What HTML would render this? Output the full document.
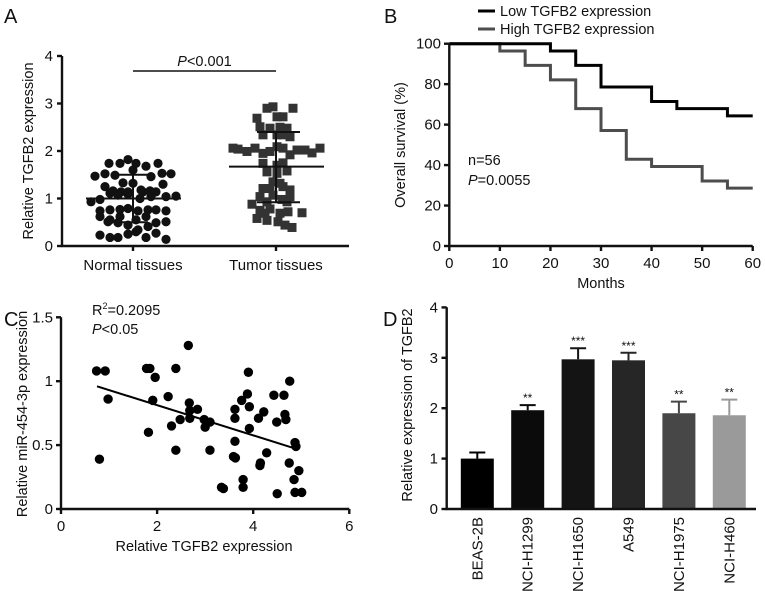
<!DOCTYPE html>
<html><head><meta charset="utf-8">
<style>
html,body{margin:0;padding:0;background:#fff;}
svg{display:block;font-family:"Liberation Sans",Arial,sans-serif;}
text{fill:#111;}
</style></head>
<body>
<svg id="fig" width="765" height="591" viewBox="0 0 765 591" xmlns="http://www.w3.org/2000/svg">
<g id="A"></g>
<g id="B"></g>
<g id="C"></g>
<g id="D"></g>
</svg>
<script>
// ---- Panel A data ----
const aCategories = ["Normal tissues","Tumor tissues"];
const aTicks = [0,1,2,3,4];
const normalVals = [1.74,1.74,1.82,1.74,1.68,1.74,1.47,1.52,1.49,1.60,1.46,1.53,1.52,1.25,1.33,1.32,1.14,1.30,1.16,1.14,1.14,1.18,1.16,1.14,0.93,0.98,1.11,1.07,1.09,1.00,1.04,1.04,1.05,0.74,0.76,0.77,0.79,0.74,0.76,0.76,0.74,0.62,0.55,0.62,0.55,0.62,0.51,0.51,0.49,0.44,0.34,0.41,0.49,0.23,0.18,0.18,0.25,0.30,0.18,0.27,0.14];
const normalJitter = [-24,-13,-5,3,13,25,-38,-28,-18,0,18,29,38,-28,-10,0,10,30,-20,-12,-5,8,17,23,-42,-33,-23,-15,-5,7,18,33,43,-33,-23,-13,-5,5,15,23,33,-33,-23,-13,3,13,33,-25,-15,-5,5,15,23,-33,-23,-15,-5,3,13,23,33];
const tumorVals = [2.90,2.93,2.90,2.69,2.72,2.72,2.51,2.48,2.50,2.48,2.34,2.34,2.34,2.30,2.06,2.04,1.99,2.06,1.95,1.99,2.09,2.06,1.92,2.02,2.02,1.96,2.06,1.74,1.70,1.75,1.56,1.53,1.58,1.35,1.32,1.21,1.21,1.25,1.18,1.04,1.07,0.98,1.04,0.88,0.93,0.93,0.75,0.78,0.69,0.72,0.70,0.58,0.54,0.51,0.44,0.39,0.69];
const tumorJitter = [-9,-3,17,-19,1,7,-16,-6,4,11,-13,1,7,14,-43,-38,-29,-21,-13,-6,1,7,14,21,29,36,44,-13,1,7,-9,1,11,-3,4,-13,-6,7,14,-16,-3,6,14,-24,-9,11,-16,-6,4,12,26,-19,-9,2,9,16,-11];
const normalStats = {mean:1.0, sd:0.5};
const tumorStats = {mean:1.67, sdHi:2.4, sdLo:0.92};

// ---- Panel B data ----
const bTicksX = [0,10,20,30,40,50,60];
const bTicksY = [0,20,40,60,80,100];
const lowTimes = [0,20,25,30,40,45,55,60];
const lowSurv  = [100,96.4,89.3,78.6,71.4,67.9,64.3,64.3];
const highTimes = [0,10,15,20,25,30,35,40,50,55,60];
const highSurv  = [100,96.4,89.3,82.1,67.9,57.1,42.9,39.3,32.1,28.6,28.6];

// ---- Panel C data ----
const cTicksX = [0,2,4,6];
const cTicksY = [0,0.5,1,1.5];
const cX = [0.74,0.92,0.98,0.80,1.78,1.85,1.96,1.91,1.82,2.23,2.30,2.39,2.39,2.48,2.65,2.67,2.68,2.68,2.84,2.98,3.00,3.10,3.10,3.34,3.38,3.62,3.62,3.62,3.59,3.63,3.76,3.79,3.79,3.90,3.88,3.92,3.92,4.11,4.22,4.14,4.15,4.28,4.43,4.49,4.50,4.64,4.66,4.68,4.76,4.75,4.85,4.87,4.89,4.87,4.95,5.01];
const cY = [1.08,1.08,0.86,0.39,1.10,1.10,1.03,0.85,0.60,0.88,0.65,1.10,0.46,0.70,1.28,0.83,0.77,0.71,0.78,0.70,0.64,0.68,0.46,0.17,0.16,0.78,0.71,0.53,0.41,0.40,0.85,0.23,0.17,1.07,0.90,0.80,0.63,0.71,0.76,0.34,0.36,0.44,0.89,0.68,0.12,0.89,0.74,0.70,1.00,0.36,0.23,0.52,0.49,0.13,0.30,0.13];
const cFit = {x0:0.75, y0:0.96, x1:4.9, y1:0.47};

// ---- Panel D data ----
const dCategories = ["BEAS-2B","NCI-H1299","NCI-H1650","A549","NCI-H1975","NCI-H460"];
const dValues = [1.0,1.96,2.97,2.95,1.9,1.86];
const dErrors = [0.12,0.10,0.22,0.15,0.23,0.31];
const dStars = ["","**","***","***","**","**"];
const dTicks = [0,1,2,3,4];
const dColors = ["#000","#0b0b0b","#141414","#262626","#474747","#9a9a9a"];

const NS="http://www.w3.org/2000/svg";
const TF=15, LF=14.5, PF=20, AW=2.4;
function mk(parent,tag,attrs,txt){const e=document.createElementNS(NS,tag);for(const k in attrs)e.setAttribute(k,attrs[k]);if(txt!==undefined)e.textContent=txt;parent.appendChild(e);return e;}

// ===== Panel A =====
(function(){
const g=document.getElementById('A');
const yA=v=>246-v*47.5; const xA=i=>133+i*143;
let t=mk(g,'text',{x:4,y:23,'font-size':PF});
t.textContent='A';
let ax=mk(g,'path',{d:'M62,56 V246 H349',stroke:'#111','stroke-width':AW,fill:'none'});

aTicks.forEach(v=>{
 let l=mk(g,'line',{x1:57,x2:62,y1:yA(v),y2:yA(v),stroke:'#111','stroke-width':AW});
 
 let tt=mk(g,'text',{x:53,y:yA(v)+5,'font-size':TF,'text-anchor':'end'},v);
 
});
aCategories.forEach((c,i)=>{
 let l=mk(g,'line',{x1:xA(i),x2:xA(i),y1:246,y2:251,stroke:'#111','stroke-width':AW});
 
 let tt=mk(g,'text',{x:xA(i),y:270,'font-size':TF,'text-anchor':'middle'},c);
 
});
let yt=mk(g,'text',{x:0,y:0,'font-size':LF,'text-anchor':'middle',transform:'translate(33,151) rotate(-90)'},'Relative TGFB2 expression');

let sl=mk(g,'line',{x1:xA(0),x2:xA(1),y1:71,y2:71,stroke:'#111','stroke-width':1.5});

let pt=mk(g,'text',{x:xA(0.5),y:66,'font-size':LF,'text-anchor':'middle'});

pt.innerHTML='<tspan font-style="italic">P</tspan>&lt;0.001';
normalVals.forEach((v,i)=>{
 let c=mk(g,'circle',{cx:xA(0)+normalJitter[i],cy:yA(v),r:4.6,fill:'#111'});
 
});
tumorVals.forEach((v,i)=>{
 let r=mk(g,'rect',{x:xA(1)+tumorJitter[i]-4.5,y:yA(v)-4.5,width:9,height:9,fill:'#333'});
 
});
function hl(x1,x2,v,name){let l=mk(g,'line',{x1:x1,x2:x2,y1:yA(v),y2:yA(v),stroke:'#111','stroke-width':2});}
function vl(x,v1,v2,name){let l=mk(g,'line',{x1:x,x2:x,y1:yA(v1),y2:yA(v2),stroke:'#111','stroke-width':2});}
hl(xA(0)-47,xA(0)+48,normalStats.mean,'normal-mean-line');
hl(xA(0)-14,xA(0)+15,normalStats.mean+normalStats.sd,'normal-sd-upper');
hl(xA(0)-14,xA(0)+15,normalStats.mean-normalStats.sd,'normal-sd-lower');
vl(xA(0),normalStats.mean-normalStats.sd,normalStats.mean+normalStats.sd,'normal-sd-bar');
hl(xA(1)-47,xA(1)+48,tumorStats.mean,'tumor-mean-line');
hl(xA(1)-19,xA(1)+24,tumorStats.sdHi,'tumor-sd-upper');
hl(xA(1)-19,xA(1)+24,tumorStats.sdLo,'tumor-sd-lower');
vl(xA(1),tumorStats.sdLo,tumorStats.sdHi,'tumor-sd-bar');
})();

// ===== Panel B =====
(function(){
const g=document.getElementById('B');
const xB=m=>449.3+m*5.057; const yB=p=>246-p*2.023;
let t=mk(g,'text',{x:384,y:23,'font-size':PF},'B');

let ax=mk(g,'path',{d:'M449.3,43.7 V246 H752.7',stroke:'#111','stroke-width':AW,fill:'none'});

bTicksY.forEach(v=>{
 let l=mk(g,'line',{x1:444,x2:449.3,y1:yB(v),y2:yB(v),stroke:'#111','stroke-width':AW});
 
 let tt=mk(g,'text',{x:441,y:yB(v)+5,'font-size':TF,'text-anchor':'end'},v);
 
});
bTicksX.forEach(v=>{
 let l=mk(g,'line',{x1:xB(v),x2:xB(v),y1:246,y2:251,stroke:'#111','stroke-width':AW});
 
 let tt=mk(g,'text',{x:xB(v),y:268,'font-size':TF,'text-anchor':'middle'},v);
 
});
let xt=mk(g,'text',{x:xB(30),y:288,'font-size':LF,'text-anchor':'middle'},'Months');

let yt=mk(g,'text',{x:0,y:0,'font-size':LF,'text-anchor':'middle',transform:'translate(405,145) rotate(-90)'},'Overall survival (%)');

function step(times,surv){let d='M'+xB(times[0])+','+yB(surv[0]);for(let i=1;i<times.length;i++){d+=' H'+xB(times[i])+' V'+yB(surv[i]);}return d;}
let hp=mk(g,'path',{d:step(highTimes,highSurv),stroke:'#4d4d4d','stroke-width':3,fill:'none'});

let lp=mk(g,'path',{d:step(lowTimes,lowSurv),stroke:'#000','stroke-width':3,fill:'none'});

let l1=mk(g,'line',{x1:478,x2:495,y1:11,y2:11,stroke:'#000','stroke-width':3});

let lt1=mk(g,'text',{x:500,y:16,'font-size':LF},'Low TGFB2 expression');

let l2=mk(g,'line',{x1:478,x2:495,y1:29,y2:29,stroke:'#4d4d4d','stroke-width':3});

let lt2=mk(g,'text',{x:500,y:34,'font-size':LF},'High TGFB2 expression');

let n=mk(g,'text',{x:468,y:165,'font-size':LF},'n=56');

let p=mk(g,'text',{x:468,y:185,'font-size':LF});

p.innerHTML='<tspan font-style="italic">P</tspan>=0.0055';
})();

// ===== Panel C =====
(function(){
const g=document.getElementById('C');
const xC=v=>61+v*48.05; const yC=v=>509-v*127.8;
let t=mk(g,'text',{x:4,y:326,'font-size':PF},'C');

let ax=mk(g,'path',{d:'M61,317.3 V509 H349.3',stroke:'#111','stroke-width':AW,fill:'none'});

cTicksY.forEach(v=>{
 let l=mk(g,'line',{x1:56,x2:61,y1:yC(v),y2:yC(v),stroke:'#111','stroke-width':AW});
 
 let tt=mk(g,'text',{x:53,y:yC(v)+5,'font-size':TF,'text-anchor':'end'},v);
 
});
cTicksX.forEach(v=>{
 let l=mk(g,'line',{x1:xC(v),x2:xC(v),y1:509,y2:514,stroke:'#111','stroke-width':AW});
 
 let tt=mk(g,'text',{x:xC(v),y:531,'font-size':TF,'text-anchor':'middle'},v);
 
});
let xt=mk(g,'text',{x:204,y:551,'font-size':LF,'text-anchor':'middle'},'Relative TGFB2 expression');

let yt=mk(g,'text',{x:0,y:0,'font-size':LF,'text-anchor':'middle',transform:'translate(27,414) rotate(-90)'},'Relative miR-454-3p expression');

cX.forEach((x,i)=>{
 let c=mk(g,'circle',{cx:xC(x),cy:yC(cY[i]),r:4.7,fill:'#000'});
 
});
let fl=mk(g,'line',{x1:xC(cFit.x0),y1:yC(cFit.y0),x2:xC(cFit.x1),y2:yC(cFit.y1),stroke:'#000','stroke-width':2});

let r=mk(g,'text',{x:92,y:315,'font-size':LF});

r.innerHTML='R<tspan font-size="9" dy="-6">2</tspan><tspan dy="6">=0.2095</tspan>';
let p=mk(g,'text',{x:92,y:334,'font-size':LF});

p.innerHTML='<tspan font-style="italic">P</tspan>&lt;0.05';
})();

// ===== Panel D =====
(function(){
const g=document.getElementById('D');
const yD=v=>509-v*50.4; const xD=i=>477.3+i*50.4;
let t=mk(g,'text',{x:383,y:326,'font-size':PF},'D');

dCategories.forEach((c,i)=>{
 const x=xD(i);
 let e=mk(g,'path',{d:`M${x},${yD(dValues[i])} V${yD(dValues[i]+dErrors[i])} M${x-8},${yD(dValues[i]+dErrors[i])} H${x+8}`,stroke:dColors[i],'stroke-width':2,fill:'none'});
 
 let b=mk(g,'rect',{x:x-16.5,y:yD(dValues[i]),width:33,height:yD(0)-yD(dValues[i]),fill:dColors[i]});
 
 if(dStars[i]){let s=mk(g,'text',{x:x,y:yD(dValues[i]+dErrors[i])-3,'font-size':12,'text-anchor':'middle'},dStars[i]);
 }
 let tt=mk(g,'text',{x:0,y:0,'font-size':TF,'text-anchor':'end',transform:`translate(${x+5},517) rotate(-90)`},c);
 
});
let ax=mk(g,'path',{d:'M446.7,307.3 V509 H756',stroke:'#111','stroke-width':AW,fill:'none'});

dTicks.forEach(v=>{
 let l=mk(g,'line',{x1:441.5,x2:446.7,y1:yD(v),y2:yD(v),stroke:'#111','stroke-width':AW});
 
 let tt=mk(g,'text',{x:438,y:yD(v)+5,'font-size':TF,'text-anchor':'end'},v);
 
});
let yt=mk(g,'text',{x:0,y:0,'font-size':LF,'text-anchor':'middle',transform:'translate(412,405) rotate(-90)'},'Relative expression of TGFB2');

})();
</script>
</body></html>
